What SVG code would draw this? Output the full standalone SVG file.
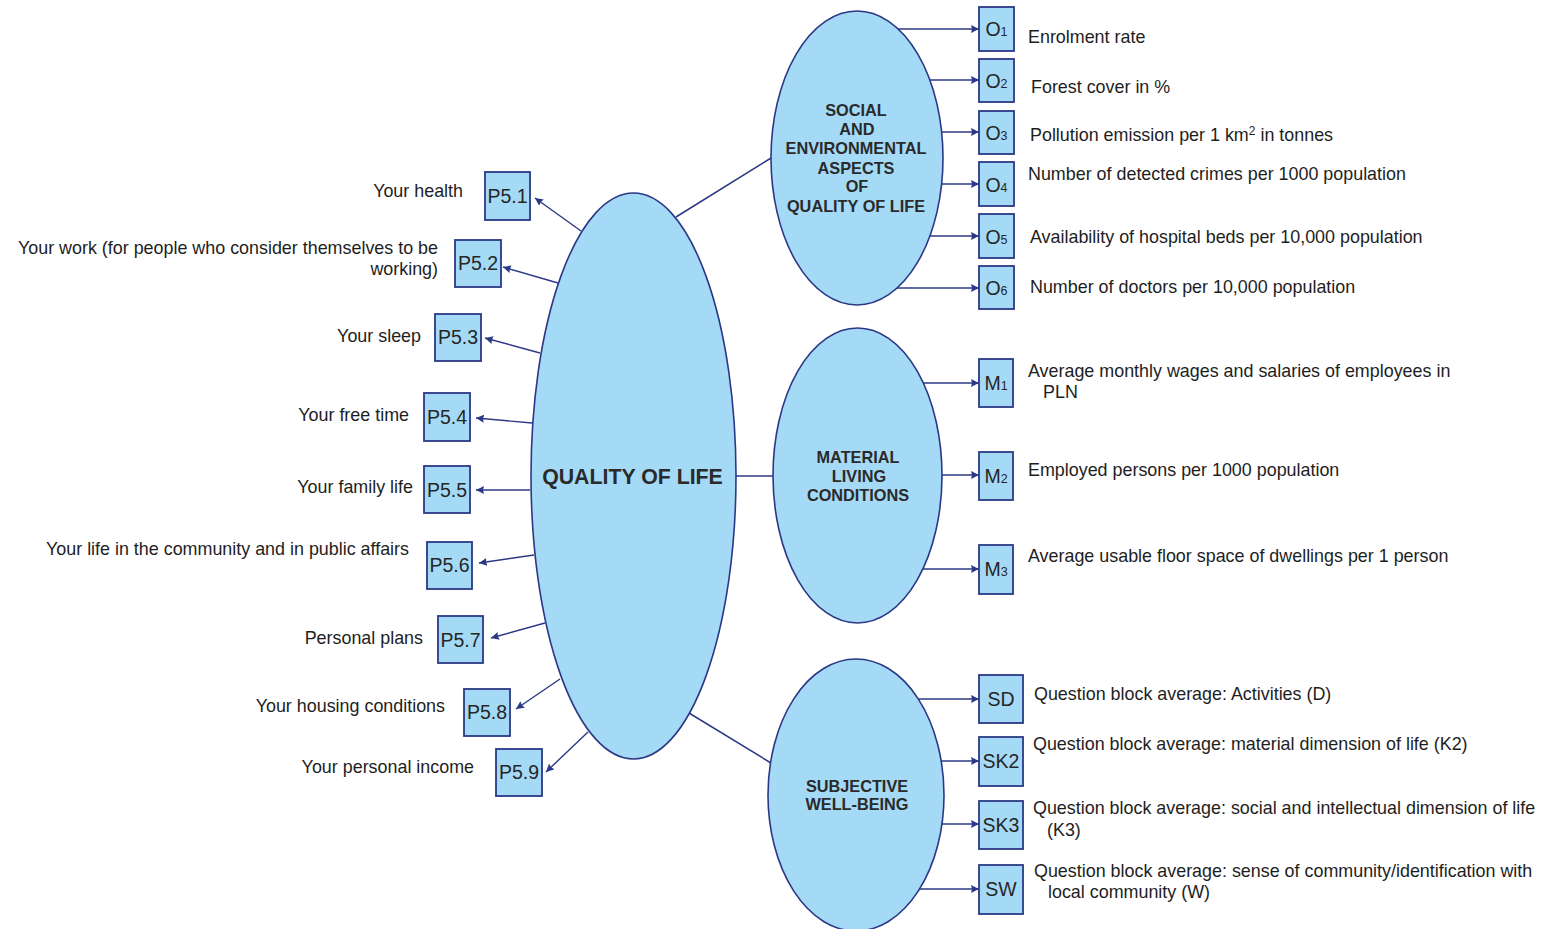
<svg xmlns="http://www.w3.org/2000/svg" width="1549" height="929" viewBox="0 0 1549 929">
<defs>
<marker id="ah" markerUnits="userSpaceOnUse" markerWidth="10" markerHeight="10" refX="8" refY="4" orient="auto">
<path d="M0,0 L8,4 L0,8 L1,4 Z" fill="#2b3886"/>
</marker>
<style>
.ell{fill:#a5daf6;stroke:#2b3886;stroke-width:1.6}
.box{fill:#a5daf6;stroke:#2b3886;stroke-width:1.8}
.con{stroke:#2b3886;stroke-width:1.5;fill:none}
.arr{stroke:#2b3886;stroke-width:1.4;fill:none;marker-end:url(#ah)}
.lbl{font-family:"Liberation Sans",Arial,sans-serif;font-size:17.9px;fill:#1e1e1e}
.bl{font-family:"Liberation Sans",Arial,sans-serif;font-size:19.5px;fill:#262626;text-anchor:middle}
.sub{font-size:12.5px}
.et{font-family:"Liberation Sans",Arial,sans-serif;font-size:16.3px;font-weight:bold;fill:#2a2a2a;text-anchor:middle}
</style>
</defs>
<rect width="1549" height="929" fill="#ffffff"/>

<g id="connectors">
<line class="con" x1="676" y1="217" x2="771" y2="158"/>
<line class="con" x1="736" y1="476" x2="773" y2="476"/>
<line class="con" x1="689" y1="713" x2="771" y2="763"/>
<line class="arr" x1="581" y1="231" x2="535" y2="198"/>
<line class="arr" x1="558" y1="283" x2="503" y2="267"/>
<line class="arr" x1="540" y1="353" x2="485" y2="338"/>
<line class="arr" x1="532" y1="423" x2="476" y2="418"/>
<line class="arr" x1="530" y1="490" x2="476" y2="490"/>
<line class="arr" x1="534" y1="555" x2="479" y2="563"/>
<line class="arr" x1="545" y1="623" x2="491" y2="638"/>
<line class="arr" x1="560" y1="679" x2="516" y2="709"/>
<line class="arr" x1="588" y1="732" x2="546" y2="772"/>
<line class="arr" x1="898" y1="29" x2="979" y2="29"/>
<line class="arr" x1="930" y1="80" x2="979" y2="80"/>
<line class="arr" x1="941" y1="132" x2="979" y2="132"/>
<line class="arr" x1="941" y1="184" x2="979" y2="184"/>
<line class="arr" x1="930" y1="236" x2="979" y2="236"/>
<line class="arr" x1="897" y1="288" x2="979" y2="288"/>
<line class="arr" x1="923" y1="383" x2="979" y2="383"/>
<line class="arr" x1="942" y1="475" x2="979" y2="475"/>
<line class="arr" x1="923" y1="569" x2="979" y2="569"/>
<line class="arr" x1="918" y1="699" x2="979" y2="699"/>
<line class="arr" x1="941" y1="761" x2="979" y2="761"/>
<line class="arr" x1="942" y1="824" x2="979" y2="824"/>
<line class="arr" x1="919" y1="889" x2="979" y2="889"/>
</g>

<g id="quality-of-life">
<ellipse class="ell" cx="633.5" cy="476" rx="102.5" ry="283"/>
<text class="et" x="632.5" y="484" style="font-size:21.3px">QUALITY OF LIFE</text>
</g>

<g id="social-environmental">
<ellipse class="ell" cx="857" cy="158" rx="86" ry="147"/>
<text class="et" x="856" y="116">SOCIAL</text>
<text class="et" x="857" y="135">AND</text>
<text class="et" x="856" y="154">ENVIRONMENTAL</text>
<text class="et" x="856" y="174">ASPECTS</text>
<text class="et" x="857" y="192">OF</text>
<text class="et" x="856" y="212">QUALITY OF LIFE</text>
</g>

<g id="material-living">
<ellipse class="ell" cx="857.5" cy="475.5" rx="84.5" ry="147.5"/>
<text class="et" x="858" y="463">MATERIAL</text>
<text class="et" x="859" y="482">LIVING</text>
<text class="et" x="858" y="501">CONDITIONS</text>
</g>

<g id="subjective-well-being">
<ellipse class="ell" cx="856" cy="795" rx="88" ry="136"/>
<text class="et" x="857" y="792">SUBJECTIVE</text>
<text class="et" x="857" y="810">WELL-BEING</text>
</g>

<g id="P5.1"><rect class="box" x="485" y="172" width="45" height="48"/><text class="bl" x="507.5" y="203">P5.1</text><text class="lbl" x="463" y="197" text-anchor="end">Your health</text></g>
<g id="P5.2"><rect class="box" x="455" y="240" width="46" height="47"/><text class="bl" x="478" y="270">P5.2</text><text class="lbl" x="438" y="254" text-anchor="end">Your work (for people who consider themselves to be</text><text class="lbl" x="438" y="275" text-anchor="end">working)</text></g>
<g id="P5.3"><rect class="box" x="435" y="314" width="46" height="47"/><text class="bl" x="458" y="344">P5.3</text><text class="lbl" x="421" y="342" text-anchor="end">Your sleep</text></g>
<g id="P5.4"><rect class="box" x="424" y="393" width="46" height="48"/><text class="bl" x="447" y="424">P5.4</text><text class="lbl" x="409" y="421" text-anchor="end">Your free time</text></g>
<g id="P5.5"><rect class="box" x="424" y="466" width="46" height="47"/><text class="bl" x="447" y="497">P5.5</text><text class="lbl" x="413" y="493" text-anchor="end">Your family life</text></g>
<g id="P5.6"><rect class="box" x="427" y="542" width="45" height="47"/><text class="bl" x="449.5" y="572">P5.6</text><text class="lbl" x="409" y="555" text-anchor="end">Your life in the community and in public affairs</text></g>
<g id="P5.7"><rect class="box" x="438" y="616" width="45" height="47"/><text class="bl" x="460.5" y="647">P5.7</text><text class="lbl" x="423" y="644" text-anchor="end">Personal plans</text></g>
<g id="P5.8"><rect class="box" x="464" y="689" width="46" height="47"/><text class="bl" x="487" y="719">P5.8</text><text class="lbl" x="445" y="712" text-anchor="end">Your housing conditions</text></g>
<g id="P5.9"><rect class="box" x="496" y="749" width="46" height="47"/><text class="bl" x="519" y="779">P5.9</text><text class="lbl" x="474" y="773" text-anchor="end">Your personal income</text></g>

<g id="O1"><rect class="box" x="979" y="7" width="35" height="44"/><text class="bl" x="996.5" y="36">O<tspan class="sub">1</tspan></text><text class="lbl" x="1028" y="43">Enrolment rate</text></g>
<g id="O2"><rect class="box" x="979" y="59" width="35" height="43"/><text class="bl" x="996.5" y="88">O<tspan class="sub">2</tspan></text><text class="lbl" x="1031" y="93">Forest cover in %</text></g>
<g id="O3"><rect class="box" x="979" y="111" width="35" height="43"/><text class="bl" x="996.5" y="140">O<tspan class="sub">3</tspan></text><text class="lbl" x="1030" y="141">Pollution emission per 1 km<tspan style="font-size:12px" dy="-6">2</tspan><tspan dy="6"> in tonnes</tspan></text></g>
<g id="O4"><rect class="box" x="979" y="162" width="35" height="44"/><text class="bl" x="996.5" y="192">O<tspan class="sub">4</tspan></text><text class="lbl" x="1028" y="180">Number of detected crimes per 1000 population</text></g>
<g id="O5"><rect class="box" x="979" y="214" width="35" height="44"/><text class="bl" x="996.5" y="244">O<tspan class="sub">5</tspan></text><text class="lbl" x="1030" y="243">Availability of hospital beds per 10,000 population</text></g>
<g id="O6"><rect class="box" x="979" y="266" width="35" height="43"/><text class="bl" x="996.5" y="295">O<tspan class="sub">6</tspan></text><text class="lbl" x="1030" y="293">Number of doctors per 10,000 population</text></g>

<g id="M1"><rect class="box" x="979" y="359" width="34" height="48"/><text class="bl" x="996" y="390">M<tspan class="sub">1</tspan></text><text class="lbl" x="1028" y="377">Average monthly wages and salaries of employees in</text><text class="lbl" x="1043" y="398">PLN</text></g>
<g id="M2"><rect class="box" x="979" y="452" width="34" height="48"/><text class="bl" x="996" y="483">M<tspan class="sub">2</tspan></text><text class="lbl" x="1028" y="476">Employed persons per 1000 population</text></g>
<g id="M3"><rect class="box" x="979" y="545" width="34" height="49"/><text class="bl" x="996" y="576">M<tspan class="sub">3</tspan></text><text class="lbl" x="1028" y="562">Average usable floor space of dwellings per 1 person</text></g>

<g id="SD"><rect class="box" x="979" y="675" width="44" height="48"/><text class="bl" x="1001" y="706">SD</text><text class="lbl" x="1034" y="700">Question block average: Activities (D)</text></g>
<g id="SK2"><rect class="box" x="979" y="737" width="44" height="49"/><text class="bl" x="1001" y="768">SK2</text><text class="lbl" x="1033" y="750">Question block average: material dimension of life (K2)</text></g>
<g id="SK3"><rect class="box" x="979" y="801" width="44" height="48"/><text class="bl" x="1001" y="832">SK3</text><text class="lbl" x="1033" y="814">Question block average: social and intellectual dimension of life</text><text class="lbl" x="1047" y="836">(K3)</text></g>
<g id="SW"><rect class="box" x="979" y="865" width="44" height="49"/><text class="bl" x="1001" y="896">SW</text><text class="lbl" x="1034" y="877">Question block average: sense of community/identification with</text><text class="lbl" x="1048" y="898">local community (W)</text></g>
</svg>
